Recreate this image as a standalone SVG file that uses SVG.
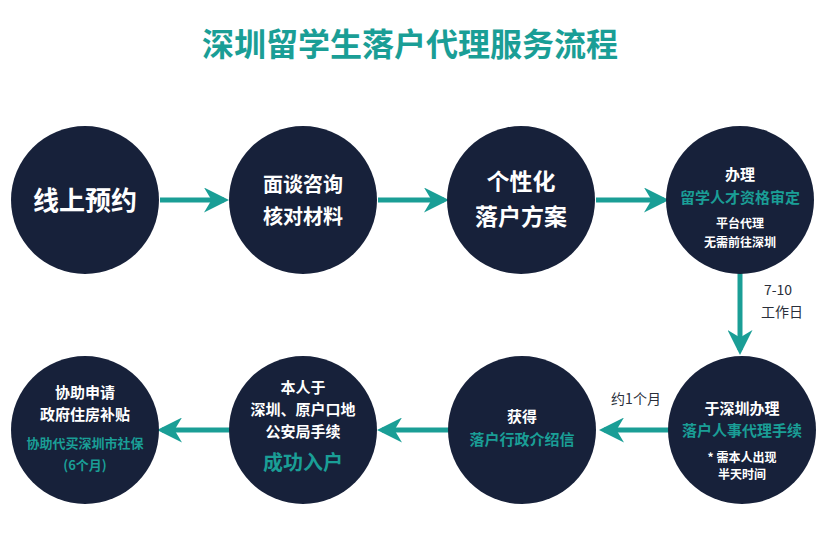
<svg xmlns="http://www.w3.org/2000/svg" width="820" height="540" viewBox="0 0 820 540">
<style>
text{font-family:"Noto Sans CJK SC","Noto Sans",sans-serif;text-anchor:middle;font-weight:bold}
.c{fill:#17213a}
.w{fill:#fff}
.t{fill:#1a9e96}
.k{fill:#2a2f3a;font-weight:normal}
.ln{stroke:#1a9e96;stroke-width:5;fill:none}
</style>
<defs><marker id="a" viewBox="0 0 10 10" refX="8" refY="5" markerWidth="5" markerHeight="5" orient="auto" markerUnits="strokeWidth"><path d="M0,0 L10,5 L0,10 L3,5 Z" fill="#1a9e96"/></marker></defs>
<rect width="820" height="540" fill="#fff"/>
<text x="410" y="56" font-size="32" class="t" font-weight="normal">深圳留学生落户代理服务流程</text>
<g id="connectors">
<line class="ln" x1="160" y1="200" x2="224" y2="200" marker-end="url(#a)"/>
<line class="ln" x1="378" y1="200" x2="444" y2="200" marker-end="url(#a)"/>
<line class="ln" x1="596" y1="200" x2="664" y2="200" marker-end="url(#a)"/>
<line class="ln" x1="740" y1="272" x2="740" y2="350" marker-end="url(#a)"/>
<line class="ln" x1="670" y1="430" x2="604" y2="430" marker-end="url(#a)"/>
<line class="ln" x1="450" y1="430" x2="382" y2="430" marker-end="url(#a)"/>
<line class="ln" x1="230" y1="430" x2="162" y2="430" marker-end="url(#a)"/>
<text x="778" y="295" font-size="14" class="k">7-10</text>
<text x="782" y="317" font-size="14" class="k">工作日</text>
<text x="636" y="404" font-size="14" class="k">约1个月</text>
</g>
<g id="n1"><circle class="c" cx="85" cy="200" r="74"/><text x="85" y="210" font-size="26" class="w" font-weight="normal">线上预约</text></g>
<g id="n2"><circle class="c" cx="303" cy="200" r="74"/><text x="303" y="192" font-size="20" class="w" font-weight="normal">面谈咨询</text><text x="303" y="224" font-size="20" class="w" font-weight="normal">核对材料</text></g>
<g id="n3"><circle class="c" cx="521" cy="200" r="74"/><text x="521" y="190" font-size="23" class="w" font-weight="normal">个性化</text><text x="521" y="225" font-size="23" class="w" font-weight="normal">落户方案</text></g>
<g id="n4"><circle class="c" cx="740" cy="200" r="74"/><text x="740" y="180" font-size="15" class="w">办理</text><text x="740" y="203" font-size="15" class="t">留学人才资格审定</text><text x="740" y="228" font-size="12" class="w">平台代理</text><text x="740" y="247" font-size="12" class="w">无需前往深圳</text></g>
<g id="n5"><circle class="c" cx="742" cy="430" r="74"/><text x="742" y="414" font-size="15" class="w">于深圳办理</text><text x="742" y="436" font-size="15" class="t">落户人事代理手续</text><text x="742" y="462" font-size="12" class="w">* 需本人出现</text><text x="742" y="479" font-size="12" class="w">半天时间</text></g>
<g id="n6"><circle class="c" cx="522" cy="430" r="74"/><text x="522" y="422" font-size="15" class="w">获得</text><text x="522" y="445" font-size="15" class="t">落户行政介绍信</text></g>
<g id="n7"><circle class="c" cx="303" cy="430" r="74"/><text x="303" y="393" font-size="15" class="w" font-weight="normal">本人于</text><text x="303" y="415" font-size="15" class="w" font-weight="normal">深圳、原户口地</text><text x="303" y="437" font-size="15" class="w" font-weight="normal">公安局手续</text><text x="303" y="470" font-size="20" class="t">成功入户</text></g>
<g id="n8"><circle class="c" cx="85" cy="430" r="74"/><text x="85" y="398" font-size="15" class="w">协助申请</text><text x="85" y="420" font-size="15" class="w">政府住房补贴</text><text x="85" y="448" font-size="13" class="t">协助代买深圳市社保</text><text x="85" y="470" font-size="13" class="t">(6个月)</text></g>
</svg>
